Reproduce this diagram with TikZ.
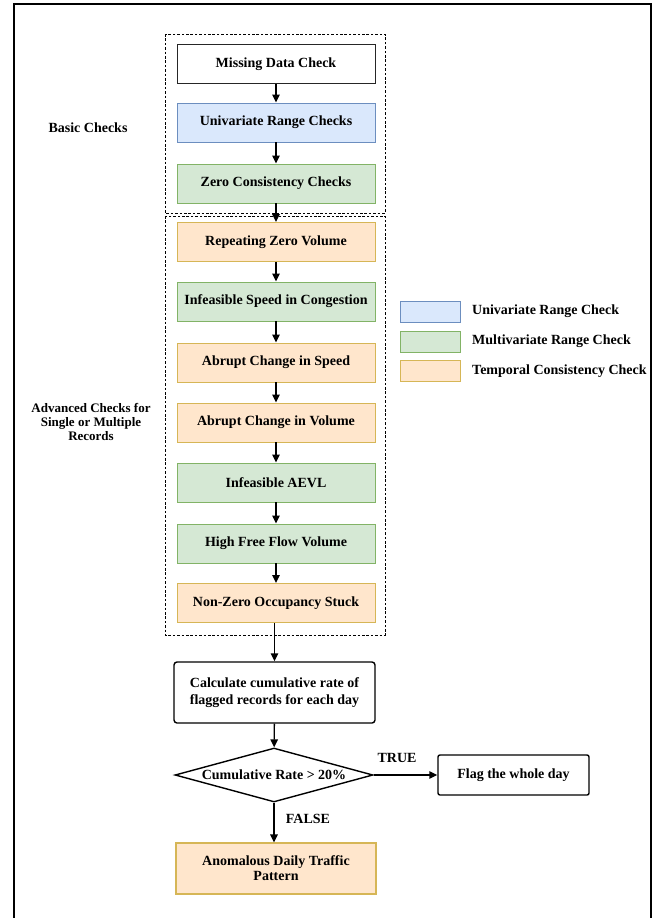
\documentclass[tikz,border=0pt]{standalone}
\usepackage{fontspec}
\setmainfont{Liberation Serif}
\usetikzlibrary{shapes.geometric,arrows.meta}
\definecolor{bfill}{HTML}{DAE8FC}\definecolor{bdraw}{HTML}{6C8EBF}
\definecolor{gfill}{HTML}{D5E8D4}\definecolor{gdraw}{HTML}{82B366}
\definecolor{ofill}{HTML}{FFE6CC}\definecolor{odraw}{HTML}{D6B656}
\tikzset{
  base/.style={draw, line width=0.9pt, minimum width=198pt, minimum height=39pt, inner sep=2pt, align=center, font=\bfseries\fontsize{14}{15}\selectfont},
  wbox/.style={base, draw=black!85, fill=white},
  bbox/.style={base, draw=bdraw, fill=bfill},
  gbox/.style={base, draw=gdraw, fill=gfill},
  obox/.style={base, draw=odraw, fill=ofill},
  legbox/.style={draw, line width=0.8pt, minimum width=60pt, minimum height=21pt, inner sep=0pt},
  lbl/.style={font=\bfseries\fontsize{14}{15}\selectfont, align=center, inner sep=0pt},
  arr/.style={line width=1.4pt, -{Triangle[length=8pt,width=7.5pt]}},
  dbox/.style={line width=0.9pt, dash pattern=on 2.6pt off 1.8pt}
}
\begin{document}
\begin{tikzpicture}[x=1pt,y=-1pt]
\useasboundingbox (0,0) rectangle (661,918);
\fill[white] (0,0) rectangle (661,918);
\draw[line width=2.6pt] (14,918) -- (14,4) -- (651,4) -- (651,918);
% dashed groups
\draw[dbox] (165,34) rectangle (385,213);
\draw[dbox] (165,216) rectangle (385,635);
% boxes
\node[wbox] (md) at (276,64) {Missing Data Check};
\node[bbox] (ur) at (276,122.5) {Univariate Range Checks};
\node[gbox] (zc) at (276,183.5) {Zero Consistency Checks};
\node[obox] (rz) at (276,242) {Repeating Zero Volume};
\node[gbox] (is) at (276,301.5) {Infeasible Speed in Congestion};
\node[obox] (as) at (276,362.5) {Abrupt Change in Speed};
\node[obox] (av) at (276,422.5) {Abrupt Change in Volume};
\node[gbox] (ia) at (276,482.5) {Infeasible AEVL};
\node[gbox] (hf) at (276,543.5) {High Free Flow Volume};
\node[obox] (nz) at (276,603) {Non-Zero Occupancy Stuck};
\node[wbox, draw=black, line width=1.4pt, rounded corners=3pt, minimum width=201pt, minimum height=61pt, font=\bfseries\fontsize{14}{17}\selectfont] (calc) at (274.5,692.5) {Calculate cumulative rate of\\flagged records for each day};
\node[draw, line width=1.4pt, shape=diamond, aspect=3.7, inner sep=0pt, minimum width=198pt, minimum height=54pt, font=\bfseries\fontsize{14}{15}\selectfont] (dia) at (274,775) {Cumulative Rate > 20\%};
\node[wbox, draw=black, line width=1.4pt, rounded corners=2pt, minimum width=151pt, minimum height=40pt] (flag) at (513.5,775) {Flag the whole day};
\node[obox, line width=1.2pt, minimum width=200pt, minimum height=51pt] (anom) at (276,868.5) {Anomalous Daily Traffic\\Pattern};
% arrows
\draw[arr] (md) -- (ur);
\draw[arr] (ur) -- (zc);
\draw[arr] (zc) -- (rz);
\draw[arr] (rz) -- (is);
\draw[arr] (is) -- (as);
\draw[arr] (as) -- (av);
\draw[arr] (av) -- (ia);
\draw[arr] (ia) -- (hf);
\draw[arr] (hf) -- (nz);
\draw[arr] (nz.south -| calc.north) -- (calc.north);
\draw[arr] (calc) -- (dia);
\draw[arr] (dia.east) -- (flag.west);
\draw[arr] (dia.south) -- (dia.south |- anom.north);
\node[lbl] (ltrue) at (397,758) {TRUE};
\node[lbl] (lfalse) at (308,819) {FALSE};
% side labels
\node[lbl] (basic) at (88,128) {Basic Checks};
\node[lbl, font=\bfseries\fontsize{13}{14}\selectfont] (adv) at (91,422) {Advanced Checks for\\Single or Multiple\\Records};
% legend
\node[legbox, draw=bdraw, fill=bfill] (lg1) at (430,311.5) {};
\node[legbox, draw=gdraw, fill=gfill] (lg2) at (430,341.5) {};
\node[legbox, draw=odraw, fill=ofill] (lg3) at (430,371) {};
\node[lbl, anchor=west] (lt1) at (472,311.5) {Univariate Range Check};
\node[lbl, anchor=west] (lt2) at (472,341.5) {Multivariate Range Check};
\node[lbl, anchor=west] (lt3) at (472,371) {Temporal Consistency Check};
\end{tikzpicture}
\end{document}
